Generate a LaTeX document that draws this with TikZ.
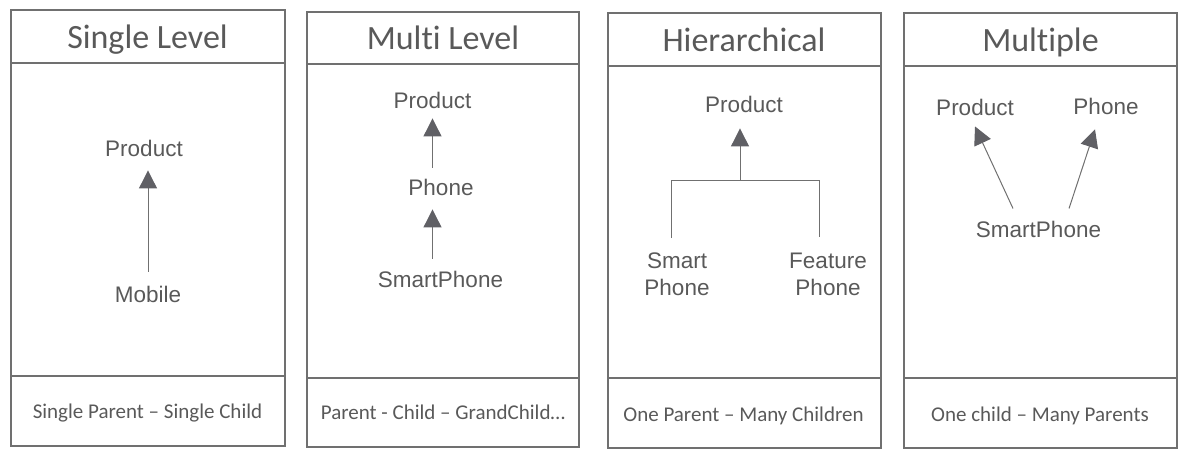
\documentclass[tikz,border=0pt]{standalone}
\usepackage{fontspec}
\setmainfont{Liberation Sans}
\newfontfamily\calib[Ligatures={TeX,NoCommon}]{Carlito}
\usetikzlibrary{arrows.meta}

\definecolor{linegray}{HTML}{707070}
\definecolor{txtgray}{HTML}{595959}
\definecolor{tipgray}{HTML}{606065}

\tikzset{
  box/.style={draw=linegray, line width=1.2pt},
  title/.style={font=\calib\fontsize{34}{40}\selectfont, text=txtgray, anchor=base, inner sep=0pt},
  footer/.style={font=\calib\fontsize{21}{25}\selectfont, text=txtgray, anchor=base, inner sep=0pt},
  item/.style={font=\fontsize{22.5}{27}\selectfont, text=txtgray, anchor=base, inner sep=0pt, align=center},
  link/.style={draw=linegray, line width=1pt},
  arr/.style={link, -{Triangle[width=18pt,length=18pt,color=tipgray]}},
}

\begin{document}
\begin{tikzpicture}[x=1pt,y=-1pt]
  \useasboundingbox (0,0) rectangle (1182,456);

  % panel frames
  \foreach \l/\r/\t/\h/\f/\b in {11/285/10/63/376/446, 307/579/12/64/378/447,
                                 608/881/13/66/378/448, 904/1177/13/66/378/448}{
    \draw[box] (\l,\t) rectangle (\r,\b);
    \draw[box] (\l,\h) -- (\r,\h);
    \draw[box] (\l,\f) -- (\r,\f);
  }

  % single level
  \node[title] (t1) at (147.5,48) {Single Level};
  \node[item] (prod1) at (144,156) {Product};
  \node[item] (mob1) at (148,302) {Mobile};
  \node[footer] (f1) at (147.5,418) {Single Parent -- Single Child};
  \draw[arr, shorten <=14pt, shorten >=14pt] (mob1.north) -- (mob1.north |- prod1.south);

  % multi level
  \node[title] (t2) at (443,49) {Multi Level};
  \node[item] (prod2) at (432.5,108) {Product};
  \node[item] (ph2) at (441,195) {Phone};
  \node[item] (sp2) at (440.5,287) {SmartPhone};
  \node[footer] (f2) at (443,419) {Parent - Child -- GrandChild\dots};
  \draw[arr, shorten <=11pt, shorten >=10pt] (prod2.south |- ph2.north) -- (prod2.south);
  \draw[arr, shorten <=12pt, shorten >=14pt] (prod2.south |- sp2.north) -- (prod2.south |- ph2.south);

  % hierarchical
  \node[title] (t3) at (744,51) {Hierarchical};
  \node[item] (prod3) at (744,112) {Product};
  \node[item] (sm3) at (677,295) {Smart\\Phone};
  \node[item] (fe3) at (828,295) {Feature\\Phone};
  \node[footer] (f3) at (743.5,421) {One Parent -- Many Children};
  \coordinate (jm) at (740,180);
  \coordinate (jl) at (671,180);
  \coordinate (jr) at (819,180);
  \coordinate (el) at (671,238);
  \coordinate (er) at (819,237);
  \draw[link] (el) -- (jl) -- (jr) -- (er);
  \draw[arr, shorten >=16pt] (jm) -- (jm |- prod3.south);

  % multiple
  \node[title] (t4) at (1040.5,51) {Multiple};
  \node[item] (prod4) at (975,115) {Product};
  \node[item] (ph4) at (1106,114) {Phone};
  \node[item] (sp4) at (1038.5,237) {SmartPhone};
  \node[footer] (f4) at (1040,421) {One child -- Many Parents};
  \draw[arr] ([xshift=-25.5pt,yshift=12pt]sp4.north) -- ([yshift=-11pt]prod4.south);
  \draw[arr] ([xshift=30.5pt,yshift=12pt]sp4.north) -- ([xshift=-11pt,yshift=-15pt]ph4.south);
\end{tikzpicture}
\end{document}
